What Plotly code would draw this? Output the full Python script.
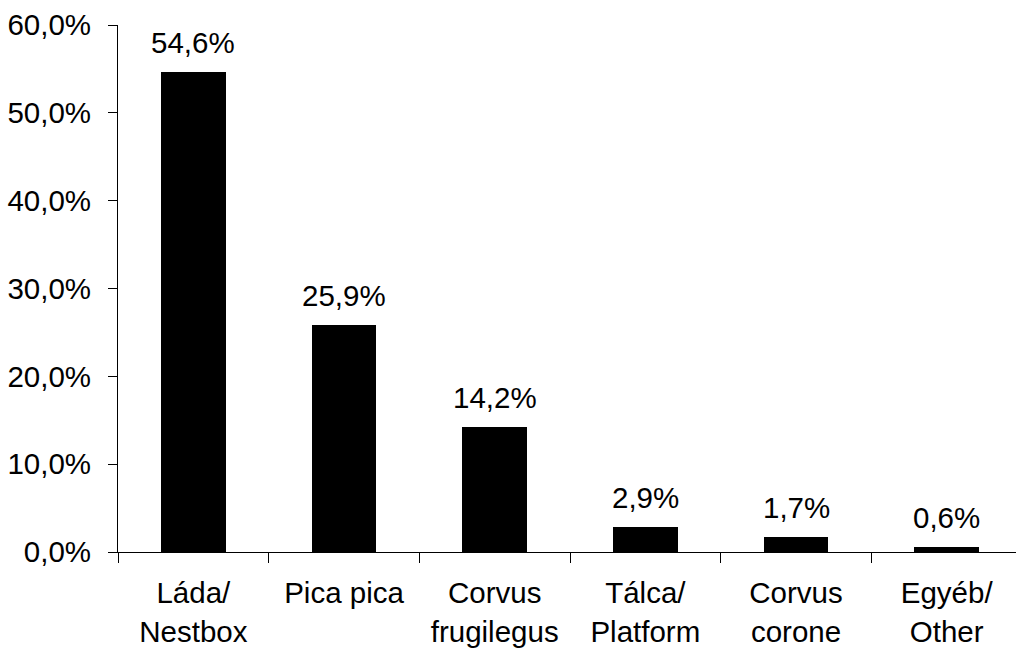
import plotly.graph_objects as go

# Nest-site categories and share of nests (%)
categories = ["Láda/<br>Nestbox", "Pica pica", "Corvus<br>frugilegus",
              "Tálca/<br>Platform", "Corvus<br>corone", "Egyéb/<br>Other"]
shares = [54.6, 25.9, 14.2, 2.9, 1.7, 0.6]
value_labels = ["54,6%", "25,9%", "14,2%", "2,9%", "1,7%", "0,6%"]

y_tick_values = [0, 10, 20, 30, 40, 50, 60]
y_tick_labels = ["0,0%", "10,0%", "20,0%", "30,0%", "40,0%", "50,0%", "60,0%"]

FONT = "Liberation Sans, Arial, sans-serif"
FS = 29.5

fig = go.Figure()
fig.add_trace(go.Bar(
    x=categories,
    y=shares,
    width=0.43,
    marker=dict(color="black", line=dict(width=0)),
    hoverinfo="skip",
))

for cat, val, lab in zip(categories, shares, value_labels):
    fig.add_annotation(
        x=cat, y=val, text=lab, showarrow=False,
        xanchor="center", yanchor="bottom", yshift=11,
        font=dict(family=FONT, size=FS, color="black"),
    )

fig.update_layout(
    width=1016, height=650,
    margin=dict(l=118, r=0, t=25, b=98),
    paper_bgcolor="white", plot_bgcolor="white",
    showlegend=False,
    font=dict(family=FONT, size=FS, color="black"),
    bargap=0,
)
fig.update_xaxes(
    range=[-0.5, 5.46],
    showline=True, linecolor="black", linewidth=1,
    ticks="outside", tickson="boundaries", ticklen=10, tickcolor="black", tickwidth=1,
    showgrid=False, zeroline=False,
    tickfont=dict(family=FONT, size=FS, color="black"),
    ticklabelstandoff=15,
)
fig.update_yaxes(
    range=[0, 60],
    tickmode="array", tickvals=y_tick_values, ticktext=y_tick_labels,
    showline=True, linecolor="black", linewidth=1,
    ticks="outside", ticklen=9, tickcolor="black", tickwidth=1,
    showgrid=False, zeroline=False,
    tickfont=dict(family=FONT, size=FS, color="black"),
    ticklabelstandoff=11,
)

fig.write_html("out.html")
